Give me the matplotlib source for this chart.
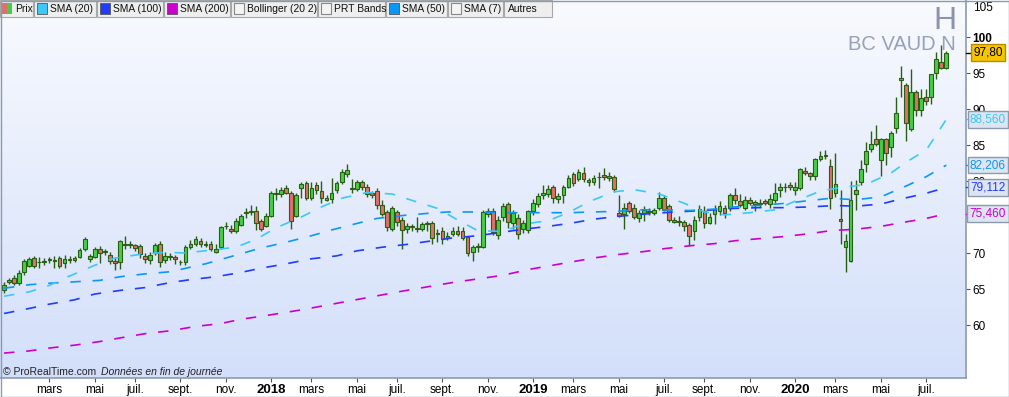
import datetime as dt

import matplotlib.pyplot as plt
import numpy as np
from matplotlib import transforms
from matplotlib.colors import LinearSegmentedColormap
from matplotlib.patches import Rectangle

plt.rcParams['font.family'] = ['Liberation Sans', 'DejaVu Sans']
plt.rcParams['lines.scale_dashes'] = False

# weekly candles, first week starting monday 26 dec 2016
first_week = dt.date(2016, 12, 26)

opens = [64.9, 66.0, 66.5, 65.9, 67.3, 68.2, 69.3, 68.7, 68.8, 69.0, 68.9, 69.3,
         68.6, 69.0, 69.0, 69.5, 70.5, 69.1, 69.5, 70.5, 70.1, 69.7, 68.9, 68.8,
         71.1, 71.1, 71.1, 71.0, 69.6, 69.0, 70.0, 71.3, 69.0, 69.5, 69.5, 68.7,
         68.7, 70.8, 71.3, 71.7, 71.1, 71.3, 70.2, 70.8, 73.7, 73.4, 73.0, 73.9,
         75.6, 75.7, 75.8, 74.4, 73.8, 75.2, 78.2, 78.2, 79.0, 78.4, 75.2, 79.0,
         79.7, 77.7, 79.5, 78.6, 77.7, 77.5, 78.7, 79.9, 81.0, 78.9, 78.9, 79.8,
         79.1, 78.3, 78.6, 76.7, 75.7, 73.3, 75.7, 74.6, 73.3, 73.6, 73.3, 73.4,
         74.0, 74.1, 72.7, 73.0, 72.1, 72.7, 73.1, 73.0, 72.2, 70.2, 70.9, 70.9,
         75.8, 75.9, 72.5, 75.0, 76.8, 74.1, 74.9, 73.4, 73.2, 75.9, 76.8, 78.0,
         78.2, 79.1, 77.5, 78.1, 79.2, 81.0, 80.3, 81.1, 80.2, 79.9, 80.5, 80.8,
         80.7, 80.5, 75.6, 75.4, 76.9, 76.3, 74.8, 75.5, 75.7, 75.5, 76.3, 77.7,
         76.5, 74.6, 74.3, 74.3, 73.9, 73.1, 75.0, 75.9, 74.2, 75.4, 75.9, 76.3,
         76.3, 78.1, 77.2, 76.3, 77.4, 77.1, 76.8, 77.2, 76.8, 77.3, 78.7, 79.1,
         79.5, 78.7, 79.0, 81.4, 81.1, 80.7, 83.0, 83.5, 82.1, 78.3, 74.7, 70.8,
         68.9, 78.2, 79.8, 82.3, 84.5, 85.9, 82.9, 85.9, 84.7, 87.3, 94.0, 93.4,
         87.2, 92.3, 89.8, 91.6, 91.6, 95.0, 96.5, 95.7]

highs = [66.0, 66.5, 66.9, 67.6, 69.2, 69.4, 69.6, 69.5, 69.3, 69.5, 69.6, 69.6,
         69.7, 69.6, 69.6, 70.7, 72.2, 69.8, 70.9, 71.0, 70.6, 70.2, 69.3, 71.8,
         72.4, 71.7, 71.3, 71.3, 70.0, 70.1, 71.4, 71.6, 70.1, 70.0, 69.7, 69.0,
         71.1, 71.8, 72.3, 72.1, 71.6, 71.6, 71.3, 73.8, 74.3, 73.9, 74.8, 75.4,
         76.3, 76.6, 76.5, 74.7, 75.5, 78.6, 79.0, 79.2, 79.4, 78.6, 78.3, 79.9,
         80.0, 79.9, 79.9, 80.0, 78.0, 80.4, 80.0, 81.7, 82.3, 80.3, 80.2, 80.1,
         79.6, 78.6, 79.0, 77.3, 76.0, 76.5, 76.0, 75.0, 74.2, 74.0, 75.0, 74.3,
         74.5, 74.4, 73.4, 73.6, 72.9, 73.6, 73.7, 73.6, 72.4, 71.1, 71.4, 76.0,
         76.2, 76.2, 75.2, 77.0, 77.1, 76.0, 75.4, 74.6, 76.0, 77.5, 78.3, 79.4,
         79.5, 79.4, 78.3, 79.5, 80.8, 81.3, 81.6, 82.0, 80.4, 80.8, 81.2, 81.8,
         81.2, 80.8, 78.0, 77.0, 77.2, 76.8, 76.0, 76.5, 76.3, 76.2, 78.5, 78.0,
         76.8, 75.0, 75.1, 74.6, 74.2, 75.1, 76.6, 76.5, 75.5, 76.6, 77.2, 76.6,
         78.3, 79.0, 78.2, 77.9, 77.8, 77.4, 77.5, 77.5, 78.2, 79.7, 79.7, 79.7,
         79.8, 79.8, 81.8, 82.0, 81.3, 83.2, 84.1, 84.3, 83.0, 83.9, 78.7, 72.7,
         80.0, 80.2, 82.9, 85.4, 86.9, 87.8, 86.0, 86.0, 87.0, 91.6, 96.0, 93.6,
         95.5, 92.6, 92.8, 92.8, 94.9, 97.9, 98.9, 98.0]

lows = [64.4, 65.7, 65.5, 65.6, 67.0, 68.0, 67.9, 67.9, 68.3, 68.6, 67.9, 67.9,
        67.9, 68.6, 68.8, 69.3, 70.3, 68.8, 69.3, 68.6, 69.7, 68.5, 67.7, 67.8,
        70.5, 70.7, 70.3, 69.3, 68.6, 68.5, 69.7, 68.0, 68.6, 69.0, 68.5, 68.4,
        68.4, 70.6, 71.0, 70.9, 70.8, 70.3, 70.0, 70.5, 73.3, 72.8, 72.8, 73.7,
        74.9, 75.3, 73.2, 73.1, 73.6, 75.0, 77.4, 77.8, 78.2, 73.3, 75.0, 77.6,
        77.4, 77.4, 78.2, 77.0, 77.2, 76.9, 78.4, 79.6, 80.5, 78.4, 78.6, 78.8,
        77.8, 77.7, 76.1, 75.1, 73.1, 73.0, 73.8, 70.5, 72.8, 73.0, 72.9, 73.1,
        73.0, 71.2, 71.5, 71.2, 71.8, 72.3, 72.4, 71.8, 69.6, 68.9, 70.1, 70.7,
        75.0, 72.5, 72.0, 74.4, 73.5, 73.3, 72.0, 72.8, 72.8, 75.3, 76.4, 77.5,
        77.8, 77.0, 76.9, 76.9, 79.0, 79.3, 80.0, 79.8, 79.3, 79.5, 79.0, 80.2,
        80.0, 78.5, 75.0, 73.3, 75.5, 74.7, 74.3, 74.5, 75.3, 75.3, 76.0, 75.8,
        74.3, 74.1, 73.8, 73.1, 71.0, 71.8, 74.4, 73.5, 74.0, 74.0, 75.3, 74.8,
        75.8, 76.8, 76.4, 76.0, 76.7, 75.9, 76.4, 76.6, 76.3, 77.0, 77.8, 78.5,
        78.8, 78.1, 78.8, 80.8, 80.2, 80.2, 82.8, 83.0, 76.1, 77.8, 71.3, 67.4,
        68.7, 76.0, 79.5, 81.3, 84.0, 84.8, 80.7, 82.2, 83.3, 86.7, 91.7, 85.6,
        86.9, 89.0, 89.0, 90.5, 90.7, 94.2, 95.6, 95.6]

closes = [65.5, 66.3, 65.8, 67.2, 68.9, 69.1, 68.2, 68.75, 68.85, 69.05, 69.0, 68.2,
          69.1, 69.05, 69.3, 70.4, 72.0, 69.6, 70.5, 70.0, 70.15, 68.9, 68.6, 71.7,
          71.15, 71.15, 70.7, 69.8, 69.1, 69.7, 71.1, 68.8, 69.6, 69.55, 69.1, 68.75,
          70.8, 71.3, 72.0, 71.3, 71.15, 70.5, 70.6, 73.6, 73.75, 73.1, 74.4, 75.1,
          75.65, 75.75, 74.2, 73.4, 75.1, 78.4, 78.25, 78.8, 78.4, 74.5, 78.1, 79.6,
          77.7, 79.0, 78.7, 77.7, 77.4, 78.4, 79.7, 81.2, 81.5, 78.95, 79.8, 79.1,
          78.2, 78.0, 76.6, 75.4, 73.6, 76.2, 74.3, 73.2, 73.7, 73.65, 73.35, 74.0,
          74.2, 72.1, 72.75, 72.0, 72.4, 73.0, 72.7, 72.1, 70.0, 70.8, 70.95, 75.7,
          75.4, 72.9, 74.6, 76.5, 74.3, 75.6, 72.7, 74.1, 75.9, 77.0, 77.9, 78.4,
          78.9, 77.6, 77.9, 79.1, 80.4, 79.7, 81.3, 80.3, 79.8, 80.4, 80.55, 80.5,
          80.4, 78.9, 75.2, 76.3, 75.9, 75.0, 75.6, 76.0, 75.75, 76.0, 77.7, 76.0,
          74.6, 74.3, 74.35, 73.8, 72.4, 74.6, 76.1, 74.1, 75.0, 76.1, 76.5, 75.6,
          78.0, 77.3, 76.7, 77.4, 77.0, 76.8, 76.85, 76.9, 77.5, 78.4, 79.1, 79.15,
          79.1, 79.1, 81.6, 81.1, 80.7, 83.0, 83.5, 83.55, 77.6, 79.6, 74.4, 71.6,
          77.3, 78.8, 81.6, 84.2, 85.2, 85.1, 85.9, 83.9, 86.6, 89.5, 94.3, 88.0,
          92.4, 89.9, 91.5, 91.1, 94.8, 96.9, 95.7, 97.8]

# moving averages at some weeks (week index -> value)
sma20_weeks = [0, 5, 9, 13, 18, 22, 27, 32, 36, 41, 46, 50, 54, 59, 63, 67, 72, 77, 81, 86,
               90, 94, 99, 103, 108, 112, 116, 121, 125, 130, 135, 139, 143, 148, 153, 157,
               162, 166, 171, 176, 179, 183, 185, 187]
sma20_vals = [64.0, 64.6, 65.5, 66.8, 68.3, 69.3, 69.8, 70.1, 70.0, 70.4, 70.8, 71.9, 73.5,
              75.0, 76.4, 77.6, 78.4, 78.2, 77.3, 76.2, 74.6, 73.1, 73.0, 74.0, 74.5, 75.6,
              77.1, 78.5, 78.8, 78.2, 76.9, 75.7, 75.3, 75.6, 76.0, 77.2, 78.6, 79.1, 79.5,
              81.1, 82.6, 84.3, 86.4, 88.56]

sma50_weeks = [0, 5, 9, 14, 19, 23, 28, 33, 40, 46, 51, 56, 61, 65, 70, 74, 79, 84, 88, 93,
               99, 103, 108, 112, 117, 122, 126, 131, 136, 141, 145, 150, 155, 160, 164,
               169, 174, 179, 183, 187]
sma50_vals = [65.1, 65.6, 65.8, 66.0, 66.2, 66.7, 67.1, 67.4, 68.5, 69.7, 70.7, 71.5, 72.4,
              73.2, 74.1, 74.8, 75.2, 75.5, 75.7, 75.7, 75.6, 75.6, 75.6, 75.6, 75.7, 75.8,
              76.0, 76.0, 75.9, 76.1, 76.4, 76.6, 76.9, 77.3, 77.6, 77.4, 77.8, 79.3, 80.6,
              82.206]

sma100_weeks = [0, 5, 9, 14, 18, 23, 28, 33, 37, 42, 47, 51, 56, 61, 66, 70, 75, 80, 84, 89,
                94, 99, 103, 108, 113, 117, 122, 127, 131, 136, 141, 145, 150, 155, 160,
                165, 169, 174, 178, 183, 187]
sma100_vals = [61.6, 62.3, 62.9, 63.5, 64.3, 64.8, 65.2, 65.9, 66.3, 66.7, 67.3, 67.9, 68.5,
               69.2, 69.6, 70.3, 70.8, 71.2, 71.6, 72.1, 72.4, 72.9, 73.3, 73.7, 74.2, 74.7,
               75.1, 75.4, 75.6, 75.8, 76.0, 76.2, 76.3, 76.3, 76.4, 76.6, 76.5, 76.8, 77.5,
               78.3, 79.112]

sma200_weeks = [0, 5, 9, 14, 19, 23, 28, 33, 38, 43, 47, 51, 59, 69, 79, 89, 99, 104, 117,
                122, 127, 131, 136, 141, 145, 150, 155, 160, 164, 169, 174, 178, 183, 187]
sma200_vals = [56.1, 56.4, 56.8, 57.2, 57.7, 58.2, 58.8, 59.2, 59.8, 60.2, 60.8, 61.2, 62.1,
               63.4, 64.7, 65.9, 66.9, 67.7, 69.3, 69.8, 70.2, 70.6, 71.0, 71.3, 71.7, 72.0,
               72.3, 72.7, 73.1, 73.3, 73.7, 74.2, 74.8, 75.46]

y_ticks = [60, 65, 70, 75, 80, 85, 90, 95, 100, 105]
month_names = {3: 'mars', 5: 'mai', 7: 'juil.', 9: 'sept.', 11: 'nov.'}

W, H = 1009, 397
fig = plt.figure(figsize=(W / 100, H / 100), dpi=100)
fig.patch.set_facecolor('white')
ax = fig.add_axes([0, 19 / H, 966 / W, 378 / H])

xlim = (-0.8, 190.9)
ylim = (52.64, 105.14)

# gradient background
grad = np.linspace(0, 1, 256).reshape(-1, 1)
bg = LinearSegmentedColormap.from_list('bg', ['#d3dffa', '#f8fafe'])
ax.imshow(grad, extent=[xlim[0], xlim[1], ylim[0], ylim[1]], origin='lower',
          aspect='auto', cmap=bg, zorder=0)

# candles
o, h, l, c = (np.array(a) for a in (opens, highs, lows, closes))
idx = np.arange(len(c))
up = c >= o
body_lo = np.minimum(o, c)
body_h = np.maximum(np.abs(c - o), 0.12)
edge = '#2b5d14'
ax.vlines(idx, l, h, color=edge, lw=1.0, zorder=2)
ax.bar(idx[up], body_h[up], bottom=body_lo[up], width=0.74, color='#45cf45',
       edgecolor=edge, lw=0.8, zorder=3)
ax.bar(idx[~up], body_h[~up], bottom=body_lo[~up], width=0.74, color='#e0706a',
       edgecolor=edge, lw=0.8, zorder=3)

# moving averages
dash = (0, (7.5, 8.5))
sma_lines = [
    (sma200_weeks, sma200_vals, '#cc00cc'),
    (sma100_weeks, sma100_vals, '#1f3cff'),
    (sma50_weeks, sma50_vals, '#0b97f5'),
    (sma20_weeks, sma20_vals, '#3cc8f8'),
]
for wk, vals, col in sma_lines:
    ax.plot(wk, vals, color=col, lw=1.2, linestyle=dash, zorder=4)

ax.set_xlim(*xlim)
ax.set_ylim(*ylim)

# watermark
ax.text(945 / W, 1 - 21 / H, 'H', transform=fig.transFigure, fontsize=23,
        color='#8b94aa', ha='center', va='center', zorder=1)
ax.text(956 / W, 1 - 45 / H, 'BC VAUD N', transform=fig.transFigure, fontsize=14.5,
        color='#97a1b7', ha='right', va='center', zorder=1)

# right axis (top label is pushed down inside the figure, 75 sits under its box)
ax.yaxis.tick_right()
ax.set_yticks(y_ticks)
ax.set_yticklabels(['' if v in (75, 105) else str(v) for v in y_ticks])
ax.tick_params(axis='y', length=3, width=0.8, color='#555555', pad=1.5, labelsize=8.5)
for lab in ax.get_yticklabels():
    if lab.get_text() == '100':
        lab.set_fontweight('bold')
fig.text(973 / W, 1 - 8 / H, str(y_ticks[-1]), fontsize=8.5, va='center')

# bottom axis: one tick each odd month, year on january
week_dates = [first_week + dt.timedelta(weeks=i) for i in range(len(closes))]
tick_pos, tick_lab = [], []
for i in range(1, len(week_dates)):
    prev_end = week_dates[i - 1] + dt.timedelta(days=6)
    end = week_dates[i] + dt.timedelta(days=6)
    if end.month != prev_end.month and end.month % 2 == 1:
        tick_pos.append(i)
        tick_lab.append(str(end.year) if end.month == 1 else month_names[end.month])
ax.set_xticks(tick_pos)
ax.set_xticklabels(tick_lab)
ax.tick_params(axis='x', length=3, width=0.8, color='#555555', pad=1.5, labelsize=8.5)
for lab in ax.get_xticklabels():
    if lab.get_text().isdigit():
        lab.set_fontweight('bold')
        lab.set_fontsize(9.5)

for side in ('top', 'left'):
    ax.spines[side].set_visible(False)
for side in ('bottom', 'right'):
    ax.spines[side].set_color('#8a9bb0')
    ax.spines[side].set_linewidth(1.2)

# value boxes on the right axis
yfig = transforms.blended_transform_factory(fig.transFigure, ax.transData)
last_boxes = [
    (closes[-1], f"{closes[-1]:.2f}", 'black', '#f6c400', '#b88a00'),
    (sma20_vals[-1], f"{sma20_vals[-1]:.3f}", '#3cc8f8', '#dde5f3', '#8c9aab'),
    (sma50_vals[-1], f"{sma50_vals[-1]:.3f}", '#0b97f5', '#dde5f3', '#8c9aab'),
    (sma100_vals[-1], f"{sma100_vals[-1]:.3f}", '#1f3cff', '#dde5f3', '#8c9aab'),
    (sma200_vals[-1], f"{sma200_vals[-1]:.3f}", '#cc00cc', '#dde5f3', '#8c9aab'),
]
for val, txt, tc, fc, ec in last_boxes:
    ax.plot([966 / W, 971 / W], [val, val], transform=yfig, color=tc, lw=1,
            clip_on=False, zorder=9)
    ax.text(988 / W, val, txt.replace('.', ','), transform=yfig, fontsize=8.5,
            color=tc, ha='center', va='center', zorder=10, clip_on=False,
            bbox=dict(boxstyle='square,pad=0.2', fc=fc, ec=ec, lw=1))

# copyright line
fig.text(3 / W, 1 - 372 / H, '\u00a9 ProRealTime.com', fontsize=7.5, va='center',
         color='#222222')
fig.text(101 / W, 1 - 372 / H, 'Donn\u00e9es en fin de journ\u00e9e', fontsize=7.5,
         va='center', style='italic', color='#222222')


# legend bar
def px_rect(x0, y0, x1, y1, **kw):
    fig.add_artist(Rectangle((x0 / W, 1 - y1 / H), (x1 - x0) / W, (y1 - y0) / H,
                             transform=fig.transFigure, **kw))


legend_cells = [
    (0, 33, 'Prix', 'prix'),
    (34, 96, 'SMA (20)', '#3cc8f8'),
    (97, 163, 'SMA (100)', '#1f3cff'),
    (164, 230, 'SMA (200)', '#cc00cc'),
    (231, 317, 'Bollinger (20 2)', None),
    (318, 385, 'PRT Bands', None),
    (386, 447, 'SMA (50)', '#0b97f5'),
    (448, 503, 'SMA (7)', None),
    (504, 552, 'Autres', ''),
]
for x0, x1, name, sw in legend_cells:
    px_rect(x0, 0, x1, 17, fc='#eeeeee', ec='#a8a8a8', lw=0.8, zorder=20)
    tx = x0 + 4
    if sw == 'prix':
        px_rect(x0 + 2, 3, x0 + 7, 14, fc='#e0706a', ec='none', zorder=21)
        px_rect(x0 + 7, 3, x0 + 12, 14, fc='#45cf45', ec='none', zorder=21)
        tx = x0 + 15
    elif sw is None:
        px_rect(x0 + 3, 3, x0 + 13, 14, fc='#f4f4f4', ec='#888888', lw=0.8, zorder=21)
        tx = x0 + 16
    elif sw:
        px_rect(x0 + 3, 3, x0 + 13, 14, fc=sw, ec='#555555', lw=0.6, zorder=21)
        tx = x0 + 16
    fig.text(tx / W, 1 - 9 / H, name, fontsize=7.4, va='center', color='#111111',
             zorder=22)

# outer frame
px_rect(0.5, 0.5, W - 0.5, H - 0.5, fill=False, ec='#8a9bb0', lw=1, zorder=30)

fig.savefig('out.png', dpi=100)
